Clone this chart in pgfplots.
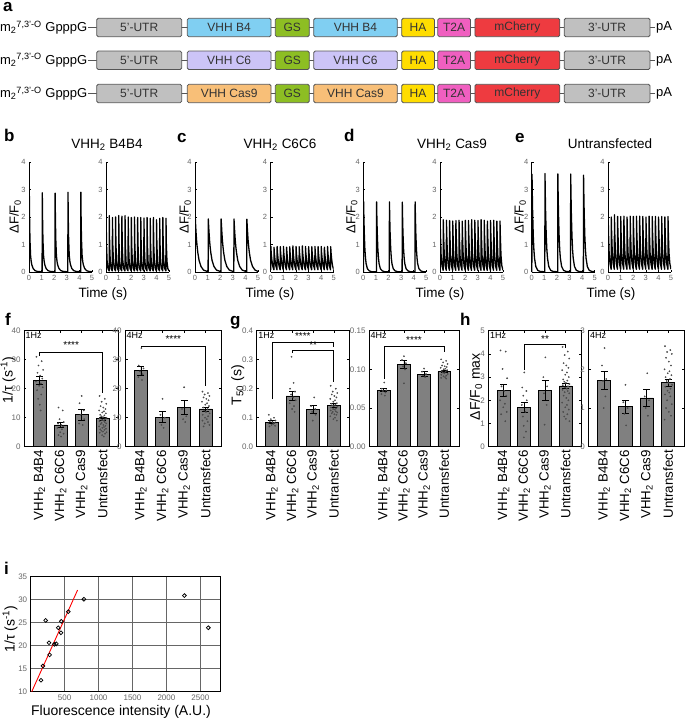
\documentclass[border=0pt]{standalone}
\usepackage{fontspec}
\setmainfont{Liberation Sans}
\usepackage{pgfplots}
\usepackage{pgfplotstable}
\pgfplotsset{compat=1.18}
\newcommand\fs[1]{\fontsize{#1}{#1}\selectfont}
\definecolor{utr}{HTML}{C0C0C0}
\definecolor{vb4}{HTML}{80CFF2}
\definecolor{gs}{HTML}{8DBE23}
\definecolor{vc6}{HTML}{CCC4F7}
\definecolor{vcas}{HTML}{F8BF78}
\definecolor{ha}{HTML}{FFDD00}
\definecolor{t2a}{HTML}{F05FC0}
\definecolor{mch}{HTML}{EE3B40}
\definecolor{edge}{HTML}{555555}
\definecolor{tk}{HTML}{666666}
\definecolor{barf}{HTML}{808080}
\pgfplotsset{
 /pgf/number format/assume math mode=true,
 /pgf/number format/1000 sep={},
 trace/.style={scale only axis, anchor=south west, width=63pt, height=110pt, xmin=0, xmax=5, ymin=0, ymax=4,
   axis x line*=bottom, axis y line*=left, x axis line style={-}, y axis line style={-},
   axis line style={line width=0.6pt, black}, xtick={0,1,2,3,4,5}, ytick={0,1,2,3,4},
   tick align=inside, major tick length=1.8pt, tick style={black, line width=0.5pt},
   tick label style={font=\fs{7.5}, text=tk}},
 tr/.style={black, line width=1.3pt, mark=none, line join=round},
 bars/.style={scale only axis, anchor=south west, height=116pt, xmin=-0.74, xmax=3.74, ymin=0,
   xtick={0,1,2,3}, xticklabels={VHH\textsubscript{2} B4B4, VHH\textsubscript{2} C6C6, VHH\textsubscript{2} Cas9, Untransfect},
   x tick label style={rotate=90, anchor=east, font=\fs{13.3}},
   y tick label style={font=\fs{8}, text=tk}, scaled y ticks=false,
   tick align=inside, major tick length=2.5pt, tick style={black, line width=0.5pt},
   axis line style={line width=0.9pt}},
 bar/.style={ybar, bar width=0.62, fill=barf, draw=black, line width=0.8pt,
   error bars/y dir=both, error bars/y explicit,
   error bars/error bar style={black, line width=0.8pt},
   error bars/error mark options={rotate=90, mark size=3.5pt, line width=0.8pt, black}},
 dots/.style={only marks, mark=*, mark size=0.65pt, color=black!70},
 brk/.style={black, line width=0.6pt, mark=none},
}
\newcommand\gbox[5]{\draw[draw=edge,fill=#4,rounded corners=1.5pt,line width=0.8pt] (#1,#3-9.2) rectangle (#2,#3+9.2);
 \node[font=\fs{12},text=black!80,inner sep=0] at ({(#1+#2)/2},#3) {#5};}
\newcommand\construct[3]{%
 \draw[edge,line width=0.8pt] (88,#1) -- (655,#1);
 \node[anchor=east,font=\fs{13},inner sep=0] at (87.5,#1) {m\textsubscript{2}\textsuperscript{7,3'-O} GpppG};
 \gbox{96.7}{181.7}{#1}{utr}{5'-UTR}
 \gbox{187.3}{271}{#1}{#2}{#3}
 \gbox{275.3}{309.3}{#1}{gs}{GS}
 \gbox{313.7}{397.3}{#1}{#2}{#3}
 \gbox{401.7}{434.4}{#1}{ha}{HA}
 \gbox{437.8}{470.5}{#1}{t2a}{T2A}
 \gbox{474.9}{559.8}{#1}{mch}{mCherry}
 \gbox{564.2}{650}{#1}{utr}{3'-UTR}
 \node[anchor=west,font=\fs{13},inner sep=0] at (656,#1) {pA};}
\pgfplotstableread{
t b4 c6 cas un
0.000 0.01 0.01 0.01 0.01
0.010 0.01 0.01 0.01 0.01
0.025 2.88 1.95 2.56 3.55
0.045 2.0 1.75 2.04 2.91
0.075 1.2 1.5 1.46 2.15
0.125 0.6 1.15 0.84 1.31
0.175 0.38 0.9 0.5 0.8
0.225 0.26 0.7 0.3 0.5
0.325 0.13 0.42 0.12 0.2
0.475 0.05 0.2 0.04 0.06
0.675 0.02 0.07 0.01 0.02
0.975 0.01 0.02 0.01 0.01
1.040 0.01 0.01 0.01 0.01
1.055 2.88 1.93 2.55 3.58
1.075 2.0 1.75 2.04 2.91
1.105 1.2 1.5 1.46 2.15
1.155 0.6 1.15 0.84 1.31
1.205 0.38 0.9 0.5 0.8
1.255 0.26 0.7 0.3 0.5
1.355 0.13 0.42 0.12 0.2
1.505 0.05 0.2 0.04 0.06
1.705 0.02 0.07 0.01 0.02
2.005 0.01 0.02 0.01 0.01
2.060 0.01 0.01 0.01 0.01
2.075 2.87 1.93 2.55 3.57
2.095 2.0 1.75 2.04 2.91
2.125 1.2 1.5 1.46 2.15
2.175 0.6 1.15 0.84 1.31
2.225 0.38 0.9 0.5 0.8
2.275 0.26 0.7 0.3 0.5
2.375 0.13 0.42 0.12 0.2
2.525 0.05 0.2 0.04 0.06
2.725 0.02 0.07 0.01 0.02
3.025 0.01 0.02 0.01 0.01
3.080 0.01 0.01 0.01 0.01
3.095 2.90 1.93 2.54 3.56
3.115 2.0 1.75 2.04 2.91
3.145 1.2 1.5 1.46 2.15
3.195 0.6 1.15 0.84 1.31
3.245 0.38 0.9 0.5 0.8
3.295 0.26 0.7 0.3 0.5
3.395 0.13 0.42 0.12 0.2
3.545 0.05 0.2 0.04 0.06
3.745 0.02 0.07 0.01 0.02
4.045 0.01 0.02 0.01 0.01
4.100 0.01 0.01 0.01 0.01
4.115 2.90 1.92 2.55 3.52
4.135 2.0 1.75 2.04 2.91
4.165 1.2 1.5 1.46 2.15
4.215 0.6 1.15 0.84 1.31
4.265 0.38 0.9 0.5 0.8
4.315 0.26 0.7 0.3 0.5
4.415 0.13 0.42 0.12 0.2
4.565 0.05 0.2 0.04 0.06
4.765 0.02 0.07 0.01 0.02
5.000 0.01 0.02 0.01 0.01
}\tone
\pgfplotstableread{
t b4 c6 cas un
0.000 0.04 0.08 0.06 0.1
0.012 2.00 0.93 1.88 2.05
0.040 1.0 0.7 1.3 1.4
0.090 0.38 0.45 0.6 0.7
0.160 0.12 0.22 0.22 0.3
0.250 0.04 0.08 0.06 0.1
0.262 2.05 0.90 1.90 2.00
0.290 1.0 0.7 1.3 1.4
0.340 0.38 0.45 0.6 0.7
0.410 0.12 0.22 0.22 0.3
0.500 0.04 0.08 0.06 0.1
0.512 1.98 0.93 1.88 2.08
0.540 1.0 0.7 1.3 1.4
0.590 0.38 0.45 0.6 0.7
0.660 0.12 0.22 0.22 0.3
0.750 0.04 0.08 0.06 0.1
0.762 2.00 0.92 1.87 2.02
0.790 1.0 0.7 1.3 1.4
0.840 0.38 0.45 0.6 0.7
0.910 0.12 0.22 0.22 0.3
1.000 0.04 0.08 0.06 0.1
1.012 2.05 0.93 1.85 2.02
1.040 1.0 0.7 1.3 1.4
1.090 0.38 0.45 0.6 0.7
1.160 0.12 0.22 0.22 0.3
1.250 0.04 0.08 0.06 0.1
1.262 2.03 0.90 1.87 2.03
1.290 1.0 0.7 1.3 1.4
1.340 0.38 0.45 0.6 0.7
1.410 0.12 0.22 0.22 0.3
1.500 0.04 0.08 0.06 0.1
1.512 2.05 0.92 1.88 2.00
1.540 1.0 0.7 1.3 1.4
1.590 0.38 0.45 0.6 0.7
1.660 0.12 0.22 0.22 0.3
1.750 0.04 0.08 0.06 0.1
1.762 2.00 0.95 1.85 2.03
1.790 1.0 0.7 1.3 1.4
1.840 0.38 0.45 0.6 0.7
1.910 0.12 0.22 0.22 0.3
2.000 0.04 0.08 0.06 0.1
2.012 1.98 0.93 1.88 2.02
2.040 1.0 0.7 1.3 1.4
2.090 0.38 0.45 0.6 0.7
2.160 0.12 0.22 0.22 0.3
2.250 0.04 0.08 0.06 0.1
2.262 2.00 0.92 1.87 2.03
2.290 1.0 0.7 1.3 1.4
2.340 0.38 0.45 0.6 0.7
2.410 0.12 0.22 0.22 0.3
2.500 0.04 0.08 0.06 0.1
2.512 1.98 0.95 1.90 2.03
2.540 1.0 0.7 1.3 1.4
2.590 0.38 0.45 0.6 0.7
2.660 0.12 0.22 0.22 0.3
2.750 0.04 0.08 0.06 0.1
2.762 1.98 0.93 1.88 2.02
2.790 1.0 0.7 1.3 1.4
2.840 0.38 0.45 0.6 0.7
2.910 0.12 0.22 0.22 0.3
3.000 0.04 0.08 0.06 0.1
3.012 1.96 0.92 1.87 2.00
3.040 1.0 0.7 1.3 1.4
3.090 0.38 0.45 0.6 0.7
3.160 0.12 0.22 0.22 0.3
3.250 0.04 0.08 0.06 0.1
3.262 1.98 0.92 1.90 2.03
3.290 1.0 0.7 1.3 1.4
3.340 0.38 0.45 0.6 0.7
3.410 0.12 0.22 0.22 0.3
3.500 0.04 0.08 0.06 0.1
3.512 1.95 0.93 1.88 2.02
3.540 1.0 0.7 1.3 1.4
3.590 0.38 0.45 0.6 0.7
3.660 0.12 0.22 0.22 0.3
3.750 0.04 0.08 0.06 0.1
3.762 1.98 0.92 1.85 2.02
3.790 1.0 0.7 1.3 1.4
3.840 0.38 0.45 0.6 0.7
3.910 0.12 0.22 0.22 0.3
4.000 0.04 0.08 0.06 0.1
4.012 1.90 0.93 1.87 2.00
4.040 1.0 0.7 1.3 1.4
4.090 0.38 0.45 0.6 0.7
4.160 0.12 0.22 0.22 0.3
4.250 0.04 0.08 0.06 0.1
4.262 1.95 0.90 1.88 2.02
4.290 1.0 0.7 1.3 1.4
4.340 0.38 0.45 0.6 0.7
4.410 0.12 0.22 0.22 0.3
4.500 0.04 0.08 0.06 0.1
4.512 1.98 0.93 1.85 2.00
4.540 1.0 0.7 1.3 1.4
4.590 0.38 0.45 0.6 0.7
4.660 0.12 0.22 0.22 0.3
4.750 0.04 0.08 0.06 0.1
4.762 1.95 0.92 1.85 2.02
4.790 1.0 0.7 1.3 1.4
4.840 0.38 0.45 0.6 0.7
4.910 0.12 0.22 0.22 0.3
5.000 0.04 0.08 0.06 0.1
}\tfour
\pgfplotstableread{
x y
152 12.5
181 15.6
221 25.5
270 20.65
279 18.0
348 20.3
377 20.4
407 23.9
446 22.8
451 25.3
554 27.4
784 30.1
2265 30.9
2618 23.9
}\tfluo
\begin{document}
\begin{tikzpicture}[x=1pt,y=1pt]
\path[use as bounding box] (0,0) rectangle (685,720);
% ---------- panel labels
\foreach \l/\xx/\yy in {a/3/708, b/4/578, c/177/577, d/344/578, e/515/577, f/5/394, g/230/394, h/460/394, i/4/145}
  \node[anchor=base west, font=\bfseries\fs{17}, inner sep=0] at (\xx,\yy) {\l};
% ---------- panel a
\construct{692.5}{vb4}{VHH B4}
\construct{659.7}{vc6}{VHH C6}
\construct{626.5}{vcas}{VHH Cas9}
% ---------- traces: titles and labels
\node[anchor=base,font=\fs{13.5}] at (107,571.7) {VHH\textsubscript{2} B4B4};
\node[anchor=base,font=\fs{13.5}] at (280,571.7) {VHH\textsubscript{2} C6C6};
\node[anchor=base,font=\fs{13.5}] at (452,571.7) {VHH\textsubscript{2} Cas9};
\node[anchor=base,font=\fs{13.5}] at (610,571.7) {Untransfected};
\foreach \xx in {103,270,440,611}
  \node[anchor=base,font=\fs{13.5}] at (\xx,422.5) {Time (s)};
\foreach \xx in {15,185,351.7,520}
  \node[rotate=90,font=\fs{13}] at (\xx,503.3) {ΔF/F\textsubscript{0}};
% b
\begin{axis}[trace, at={(29pt,448pt)}]
\addplot[tr] table[x=t,y=b4]{\tone};
\end{axis}
\begin{axis}[trace, at={(106pt,448pt)}]
\addplot[tr] table[x=t,y=b4]{\tfour};
\end{axis}
% c
\begin{axis}[trace, at={(195pt,448pt)}]
\addplot[tr] table[x=t,y=c6]{\tone};
\end{axis}
\begin{axis}[trace, at={(270.7pt,448pt)}]
\addplot[tr] table[x=t,y=c6]{\tfour};
\end{axis}
% d
\begin{axis}[trace, at={(363.3pt,448pt)}]
\addplot[tr] table[x=t,y=cas]{\tone};
\end{axis}
\begin{axis}[trace, at={(440pt,448pt)}]
\addplot[tr] table[x=t,y=cas]{\tfour};
\end{axis}
% e
\begin{axis}[trace, at={(531.7pt,448pt)}]
\addplot[tr] table[x=t,y=un]{\tone};
\end{axis}
\begin{axis}[trace, at={(608pt,448pt)}]
\addplot[tr] table[x=t,y=un]{\tfour};
\end{axis}
% ---------- bar panels y labels
\node[rotate=90,font=\fs{14}] at (8,340) {1/τ (s\textsuperscript{-1})};
\node[rotate=90,font=\fs{14}] at (237.7,335) {T\textsubscript{50} (s)};
\node[rotate=90,font=\fs{14}] at (476,333.3) {ΔF/F\textsubscript{0} max};
% f left
\begin{axis}[bars, at={(24pt,273.3pt)}, width=94.3pt, ymax=40, ytick={0,10,20,30,40}]
\addplot[bar] coordinates {(0,22.8) +- (0,1.4) (1,7.5) +- (0,1.0) (2,11.0) +- (0,1.9) (3,9.6) +- (0,0.6)};
\addplot[dots] coordinates {(-0.15,31) (0.1,29.5) (-0.05,28) (0.17,26.5) (-0.1,25.5) (0.03,24.5) (0.13,23.5) (-0.17,22.5) (0.06,21.8) (-0.02,21) (0.15,20.5) (-0.12,19.5) (0.08,18) (-0.07,16.5) (0.01,14.5) (0.05,12.5)
(0.9,13.5) (1.1,12.5) (0.95,9.5) (1.15,8.5) (0.88,8) (1.03,7.5) (1.12,7) (0.85,6.5) (1.06,6) (0.98,5) (1.14,4.5) (0.9,4) (1.02,3.5)
(2.0,17.5) (1.9,15) (2.1,12.5) (1.95,11) (2.12,9.5) (1.88,8) (2.05,7.5)
(2.85,17.5) (3.1,16.5) (2.95,15.5) (3.17,14.8) (2.9,14) (3.03,13.5) (3.13,13) (2.83,12.5) (3.06,12.2) (2.98,11.8) (3.15,11.5) (2.88,11) (3.08,10.8) (2.93,10.5) (3.01,10.2) (3.18,10) (2.86,9.8) (3.11,9.5) (2.97,9.2) (3.05,9) (2.85,8.8) (3.1,8.5) (2.95,8.2) (3.17,8) (2.9,7.8) (3.03,7.5) (3.13,7.2) (2.83,7) (3.06,6.8) (2.98,6.5) (3.15,6.2) (2.88,6) (3.08,5.8) (2.93,5.5) (3.01,5.2) (3.18,5) (2.86,4.8) (3.11,4.5) (2.97,4) (3.05,3.5)};
\addplot[brk] coordinates {(0,31.2) (0,32.65) (3,32.65) (3,18.4)};
\node[font=\fs{10}] at (axis cs:1.5,35.2) {****};
\node[anchor=north west,font=\fs{9},inner sep=1.5pt] at (rel axis cs:0,1) {1Hz};
\end{axis}
% f right
\begin{axis}[bars, at={(125pt,273.3pt)}, width=96.7pt, ymax=40, ytick={0,10,20,30,40}]
\addplot[bar] coordinates {(0,26.2) +- (0,1.6) (1,10.2) +- (0,1.8) (2,13.6) +- (0,2.5) (3,13.0) +- (0,0.7)};
\addplot[dots] coordinates {(0.02,34) (-0.1,28) (0.12,27) (-0.05,26) (0.08,25) (-0.12,24) (0.05,23)
(1.0,16.5) (0.9,11) (1.1,10) (0.95,7.5) (1.05,6.5)
(2.0,20.5) (1.9,13) (2.1,10.5) (1.95,9.5) (2.05,8.5)
(2.85,19) (3.1,18.5) (2.95,18) (3.17,17.5) (2.9,17) (3.03,16.5) (3.13,16) (2.83,15.5) (3.06,15) (2.98,14.5) (3.15,14) (2.88,13.5) (3.08,13) (2.93,12.5) (3.01,12) (3.18,11.5) (2.86,11) (3.11,10.5) (2.97,10) (3.05,9.5) (2.85,9) (3.1,8.5) (2.95,8) (3.17,7.5) (2.9,7)};
\addplot[brk] coordinates {(0,34) (0,34.75) (3,34.75) (3,20.8)};
\node[font=\fs{10}] at (axis cs:1.5,37) {****};
\node[anchor=north west,font=\fs{9},inner sep=1.5pt] at (rel axis cs:0,1) {4Hz};
\end{axis}
% g left
\begin{axis}[bars, at={(256.7pt,273.3pt)}, width=92.3pt, ymax=0.4, ytick={0,0.1,0.2,0.3,0.4},
  yticklabel style={/pgf/number format/.cd, fixed, fixed zerofill, precision=1}]
\addplot[bar] coordinates {(0,0.085) +- (0,0.006) (1,0.175) +- (0,0.017) (2,0.129) +- (0,0.014) (3,0.143) +- (0,0.006)};
\addplot[dots] coordinates {(-0.15,0.11) (0.1,0.1) (-0.05,0.095) (0.17,0.09) (-0.1,0.088) (0.03,0.085) (0.13,0.082) (-0.17,0.08) (0.06,0.078) (-0.02,0.075) (0.15,0.072) (-0.12,0.07)
(0.95,0.31) (1.05,0.22) (0.88,0.2) (1.12,0.19) (0.93,0.18) (1.03,0.17) (1.15,0.16) (0.86,0.15) (1.07,0.14) (0.98,0.13) (1.1,0.12)
(2.05,0.17) (1.9,0.14) (2.1,0.13) (1.95,0.12) (2.12,0.11) (1.98,0.09)
(2.85,0.21) (3.1,0.2) (2.95,0.19) (3.17,0.185) (2.9,0.18) (3.03,0.175) (3.13,0.17) (2.83,0.165) (3.06,0.16) (2.98,0.155) (3.15,0.15) (2.88,0.148) (3.08,0.145) (2.93,0.142) (3.01,0.14) (3.18,0.138) (2.86,0.135) (3.11,0.132) (2.97,0.13) (3.05,0.128) (2.85,0.125) (3.1,0.122) (2.95,0.12) (3.17,0.118) (2.9,0.115) (3.03,0.112) (3.13,0.11) (2.83,0.105) (3.06,0.1) (2.98,0.095) (3.15,0.09)};
\addplot[brk] coordinates {(0,0.163) (0,0.3615) (3,0.3615) (3,0.345)};
\addplot[brk] coordinates {(1,0.324) (1,0.332) (3,0.332) (3,0.224)};
\node[font=\fs{10}] at (axis cs:1.5,0.38) {****};
\node[font=\fs{10}] at (axis cs:2,0.349) {**};
\node[anchor=north west,font=\fs{9},inner sep=1.5pt] at (rel axis cs:0,1) {1Hz};
\end{axis}
% g right
\begin{axis}[bars, at={(369pt,273.3pt)}, width=90pt, ymax=0.15, ytick={0,0.05,0.10,0.15},
  yticklabel style={/pgf/number format/.cd, fixed, fixed zerofill, precision=2}]
\addplot[bar] coordinates {(0,0.073) +- (0,0.002) (1,0.106) +- (0,0.005) (2,0.094) +- (0,0.003) (3,0.097) +- (0,0.0015)};
\addplot[dots] coordinates {(0.02,0.083) (-0.1,0.075) (0.12,0.073) (-0.05,0.072) (0.08,0.07) (-0.12,0.068) (0.05,0.066)
(1.0,0.117) (0.9,0.112) (1.1,0.108) (0.95,0.104) (1.05,0.1) (1.0,0.082)
(2.0,0.101) (1.9,0.097) (2.1,0.094) (1.95,0.092) (2.05,0.09)
(2.85,0.113) (3.1,0.111) (2.95,0.109) (3.17,0.107) (2.9,0.105) (3.03,0.104) (3.13,0.103) (2.83,0.102) (3.06,0.101) (2.98,0.1) (3.15,0.099) (2.88,0.098) (3.08,0.097) (2.93,0.096) (3.01,0.095) (3.18,0.094) (2.86,0.093) (3.11,0.092) (2.97,0.091) (3.05,0.09) (2.85,0.089) (3.1,0.088)};
\addplot[brk] coordinates {(0,0.0875) (0,0.1303) (3,0.1303) (3,0.1224)};
\node[font=\fs{10}] at (axis cs:1.5,0.1375) {****};
\node[anchor=north west,font=\fs{9},inner sep=1.5pt] at (rel axis cs:0,1) {4Hz};
\end{axis}
% h left
\begin{axis}[bars, at={(488.3pt,273.3pt)}, width=92.7pt, ymax=5, ytick={0,1,2,3,4,5}]
\addplot[bar] coordinates {(0,2.42) +- (0,0.27) (1,1.69) +- (0,0.23) (2,2.42) +- (0,0.42) (3,2.62) +- (0,0.1)};
\addplot[dots] coordinates {(-0.15,4.15) (0.1,4.1) (-0.05,3.35) (0.17,2.95) (-0.1,2.6) (0.03,2.4) (0.13,2.2) (-0.17,2.0) (0.06,1.85) (-0.02,1.7) (0.15,1.5) (-0.12,1.4) (0.08,1.1)
(1.0,3.2) (0.9,2.55) (1.1,2.4) (0.95,2.2) (1.12,2.0) (0.88,1.8) (1.05,1.5) (0.93,1.3) (1.15,1.1) (0.97,0.9) (1.08,0.65) (0.98,0.4)
(2.02,3.85) (1.92,3.0) (2.1,2.6) (1.95,2.3) (2.08,1.8) (1.98,0.95)
(2.85,4.3) (3.1,4.1) (2.95,3.95) (3.17,3.8) (2.9,3.6) (3.03,3.5) (3.13,3.4) (2.83,3.3) (3.06,3.2) (2.98,3.1) (3.15,3.0) (2.88,2.9) (3.08,2.85) (2.93,2.8) (3.01,2.75) (3.18,2.7) (2.86,2.65) (3.11,2.6) (2.97,2.55) (3.05,2.5) (2.85,2.45) (3.1,2.4) (2.95,2.35) (3.17,2.3) (2.9,2.2) (3.03,2.1) (3.13,2.0) (2.83,1.9) (3.06,1.8) (2.98,1.7) (3.15,1.6) (2.88,1.5) (3.08,1.4) (2.93,1.3) (3.01,1.2) (3.18,1.1)};
\addplot[brk] coordinates {(1,3.3) (1,4.43) (3,4.43) (3,4.24)};
\node[font=\fs{10}] at (axis cs:2,4.62) {**};
\node[anchor=north west,font=\fs{9},inner sep=1.5pt] at (rel axis cs:0,1) {1Hz};
\end{axis}
% h right
\begin{axis}[bars, at={(588.3pt,273.3pt)}, width=95.7pt, ymax=3, ytick={0,1,2,3}]
\addplot[bar] coordinates {(0,1.72) +- (0,0.23) (1,1.03) +- (0,0.16) (2,1.26) +- (0,0.23) (3,1.65) +- (0,0.09)};
\addplot[dots] coordinates {(0.02,2.55) (-0.1,2.1) (0.1,1.75) (-0.05,1.7) (0.06,1.3) (-0.02,1.0)
(1.0,1.6) (0.9,1.15) (1.1,1.0) (0.95,0.85) (1.03,0.55)
(2.02,1.9) (1.9,1.3) (2.1,1.2) (1.95,1.0) (2.05,0.8)
(2.85,2.6) (3.1,2.5) (2.95,2.45) (3.17,2.4) (2.9,2.3) (3.03,2.2) (3.13,2.1) (2.83,2.0) (3.06,1.95) (2.98,1.9) (3.15,1.85) (2.88,1.8) (3.08,1.75) (2.93,1.7) (3.01,1.65) (3.18,1.6) (2.86,1.55) (3.11,1.5) (2.97,1.45) (3.05,1.4) (2.85,1.35) (3.1,1.3) (2.95,1.2) (3.17,1.1) (2.9,1.0) (3.03,0.9) (3.13,0.8) (2.83,0.7)};
\node[anchor=north west,font=\fs{9},inner sep=1.5pt] at (rel axis cs:0,1) {4Hz};
\end{axis}
% ---------- panel i
\node[rotate=90,font=\fs{14}] at (10,91) {1/τ (s\textsuperscript{-1})};
\node[font=\fs{14}] at (121,8) {Fluorescence intensity (A.U.)};
\begin{axis}[scale only axis, anchor=south west, at={(30.7pt,28.3pt)}, width=189.3pt, height=115pt,
  xmin=0, xmax=2790, ymin=10, ymax=35, xtick={500,1000,1500,2000,2500}, ytick={10,15,20,25,30,35},
  scaled x ticks=false, grid=major, grid style={color=gray!80!black, line width=0.9pt},
  major tick length=0pt, tick label style={font=\fs{8}, text=tk},
  axis line style={black, line width=0.9pt}]
\addplot[red, line width=0.9pt, mark=none] coordinates {(15,10) (691,32.1)};
\addplot[only marks, mark=o, mark size=1.9pt, black, line width=0.75pt] table[x=x,y=y]{\tfluo};
\end{axis}
\end{tikzpicture}
\end{document}
